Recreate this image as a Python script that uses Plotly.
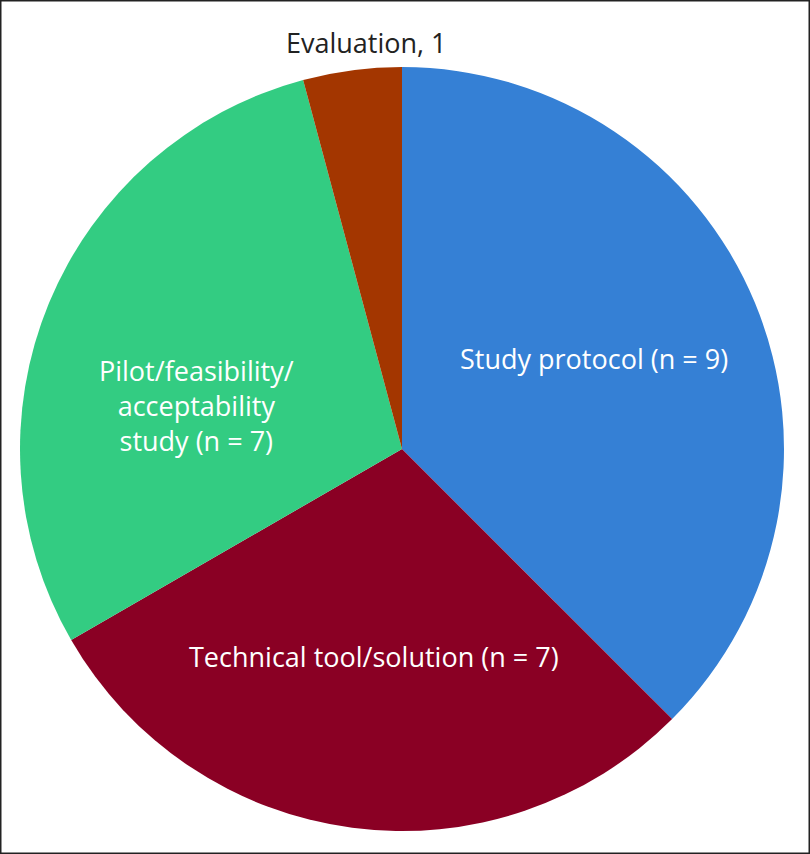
import plotly.graph_objects as go

categories = ["Study protocol", "Technical tool/solution", "Pilot/feasibility/acceptability study", "Evaluation"]
counts = [9, 7, 7, 1]
colors = ["#3580D5", "#8A0024", "#33CC82", "#A33600"]

W, H = 810, 854
fig = go.Figure(go.Pie(
    labels=categories,
    values=counts,
    sort=False,
    direction="clockwise",
    rotation=0,
    marker=dict(colors=colors, line=dict(width=0)),
    textinfo="none",
    hoverinfo="label+value",
    showlegend=False,
    domain=dict(x=[18 / W, 786 / W], y=[1 - 831 / H, 1 - 67 / H]),
))

font = "Open Sans, Noto Sans, Arial, sans-serif"
anns = [
    dict(text="Study protocol (n = 9)", x=594 / W, y=1 - 358 / H, color="white", align="center"),
    dict(text="Technical tool/solution (n = 7)", x=374 / W, y=1 - 656 / H, color="white", align="center"),
    dict(text="Pilot/feasibility/<br>acceptability<br>study (n = 7)", x=196 / W, y=1 - 405 / H, color="white", align="center"),
    dict(text="Evaluation, 1", x=366 / W, y=1 - 42 / H, color="#222222", align="center"),
]
fig.update_layout(
    width=W, height=H,
    margin=dict(l=0, r=0, t=0, b=0),
    paper_bgcolor="white",
    annotations=[dict(text=a["text"], x=a["x"], y=a["y"], xref="paper", yref="paper",
                      xanchor="center", yanchor="middle", align=a["align"], showarrow=False,
                      font=dict(family=font, size=27, color=a["color"])) for a in anns],
    shapes=[dict(type="rect", xref="paper", yref="paper", x0=0, y0=0, x1=1, y1=1,
                 line=dict(color="#222222", width=3))],
)
fig.write_html("out.html", config={"displayModeBar": False})
with open("out.html", encoding="utf-8") as f:
    html = f.read()
html = html.replace("<head>", "<head><style>html,body{margin:0;padding:0;overflow:hidden;}</style>", 1)
with open("out.html", "w", encoding="utf-8") as f:
    f.write(html)
